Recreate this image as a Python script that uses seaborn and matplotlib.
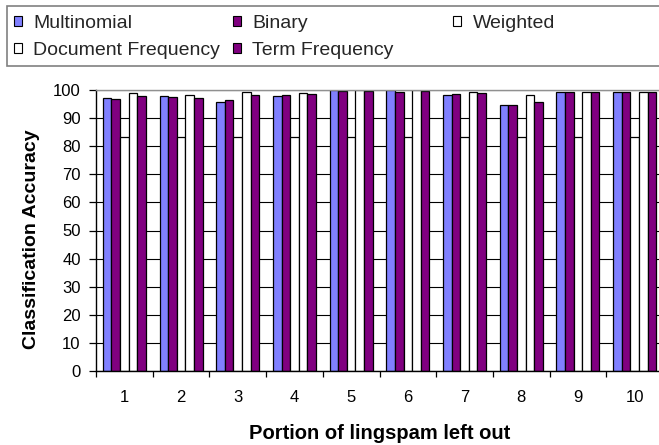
import numpy as np
import pandas as pd
import seaborn as sns
import matplotlib
matplotlib.use("Agg")
import matplotlib.pyplot as plt
from matplotlib.patches import Patch, Rectangle

# Leave-one-out portions of the lingspam corpus
portions = ["1", "2", "3", "4", "5", "6", "7", "8", "9", "10"]

# Classification accuracy (%) for each feature weighting scheme
multinomial = [97.1, 97.9, 95.8, 97.9, 100.0, 100.0, 98.2, 94.5, 99.2, 99.2]
binary = [96.7, 97.6, 96.5, 98.2, 99.6, 99.2, 98.6, 94.8, 99.2, 99.2]
weighted = [83.4, 83.4, 83.4, 83.4, 83.4, 83.4, 83.4, 83.4, 83.4, 83.3]
doc_freq = [98.8, 98.2, 99.2, 98.8, 100.0, 100.0, 99.2, 98.2, 99.2, 99.2]
term_freq = [97.9, 97.1, 98.2, 98.6, 99.6, 99.6, 98.8, 95.8, 99.2, 99.2]

methods = ["Multinomial", "Binary", "Weighted", "Document Frequency", "Term Frequency"]
colors = ["#8080FF", "#800080", "#FFFFFF", "#FFFFFF", "#800080"]
y_ticks = [0, 10, 20, 30, 40, 50, 60, 70, 80, 90, 100]

series = [multinomial, binary, weighted, doc_freq, term_freq]
df = pd.DataFrame({
    "Portion": np.tile(portions, len(methods)),
    "Method": np.repeat(methods, len(portions)),
    "Accuracy": np.concatenate(series),
})

sns.set_theme(style="white")
plt.rcParams["font.family"] = ["Liberation Sans", "DejaVu Sans"]

W, H = 659, 445
fig = plt.figure(figsize=(W / 100, H / 100), dpi=100)
ax = fig.add_axes([96 / W, (H - 371) / H, 567 / W, 281 / H])

sns.barplot(
    data=df, x="Portion", y="Accuracy", hue="Method",
    order=portions, hue_order=methods,
    palette=dict(zip(methods, colors)), saturation=1,
    width=0.76, gap=0, errorbar=None,
    edgecolor="black", linewidth=0.9, legend=False, ax=ax,
)

ax.set_ylim(0, 100)
ax.set_xlim(-0.5, len(portions) - 0.5)
ax.set_yticks(y_ticks)
ax.set_yticklabels([str(v) for v in y_ticks])
ax.yaxis.grid(True, color="black", linewidth=0.8)
ax.xaxis.grid(False)
ax.set_axisbelow(True)

for side in ["left", "bottom"]:
    ax.spines[side].set_color("black")
    ax.spines[side].set_linewidth(1.0)
for side in ["top", "right"]:
    ax.spines[side].set_color("#909090")
    ax.spines[side].set_linewidth(1.0)

# category labels centred, tick marks on group boundaries
ax.set_xticks(np.arange(len(portions)))
ax.set_xticklabels(portions)
ax.set_xticks(np.arange(-0.5, len(portions), 1.0), minor=True)
ax.tick_params(axis="x", which="major", length=0, pad=14, labelsize=12, labelcolor="black")
ax.tick_params(axis="x", which="minor", length=4.5, width=0.9, color="black", direction="out", bottom=True)
ax.tick_params(axis="y", which="major", length=5, width=0.9, color="black", direction="out",
               left=True, pad=6, labelsize=12, labelcolor="black")

ax.set_xlabel("Portion of lingspam left out", fontsize=14.5, fontweight="bold", color="black")
ax.set_ylabel("Classification Accuracy", fontsize=14, fontweight="bold", color="black")
ax.xaxis.set_label_coords(0.5, -0.19)
ax.yaxis.set_label_coords(-0.098, 0.47)

# legend box spanning the top of the figure
fig.patches.append(Rectangle((7 / W, (H - 66) / H), 1.0, 60 / H, transform=fig.transFigure,
                             facecolor="white", edgecolor="#808080", linewidth=1.2, zorder=0))

handles = [Patch(facecolor=c, edgecolor="black", linewidth=0.8) for c in colors]
columns = [(14, [0, 3]), (233, [1, 4]), (453, [2])]
for x0, idx in columns:
    fig.legend([handles[i] for i in idx], [methods[i] for i in idx],
               loc="upper left", bbox_to_anchor=(x0 / W, (H - 15) / H),
               bbox_transform=fig.transFigure, frameon=False, fontsize=14,
               borderpad=0, borderaxespad=0, handlelength=0.4, handleheight=0.4,
               handletextpad=0.6, labelspacing=0.52)

fig.savefig("out.png", dpi=100)
